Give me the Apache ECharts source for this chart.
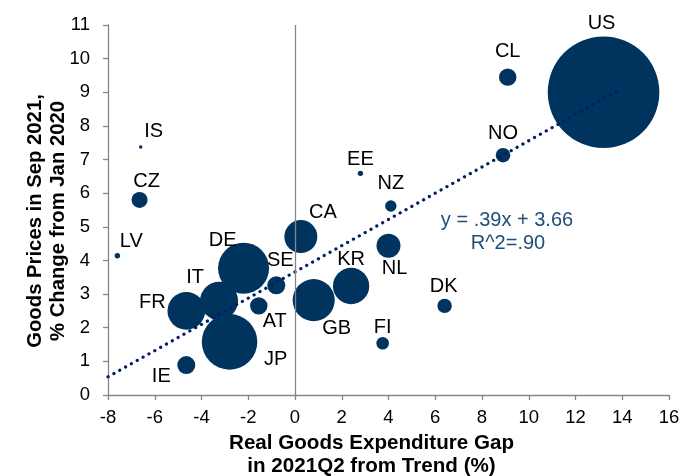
<!DOCTYPE html>
<html>
<head>
<meta charset="utf-8">
<script src="https://cdn.jsdelivr.net/npm/echarts@6/dist/echarts.min.js"></script>
<style>
html,body{margin:0;padding:0;background:#fff;}
#chart{width:692px;height:476px;}
</style>
</head>
<body>
<div id="chart"></div>
<script>
// ---- data ----
const countries = ['US','CL','NO','EE','NZ','NL','DK','FI','KR','GB','CA','SE','AT','DE','JP','IT','FR','IE','LV','CZ','IS'];
const expenditureGap = [13.2, 9.1, 8.9, 2.8, 4.1, 4.0, 6.4, 3.75, 2.4, 0.8, 0.25, -0.8, -1.55, -2.2, -2.8, -3.25, -4.65, -4.65, -7.6, -6.65, -6.6];
const goodsPrices = [9.0, 9.45, 7.13, 6.59, 5.62, 4.44, 2.65, 1.54, 3.24, 2.82, 4.71, 3.26, 2.65, 3.77, 1.58, 2.8, 2.5, 0.89, 4.14, 5.8, 7.37];
const bubbleWeight = [100, 2.43, 1.71, 0.23, 1.04, 4.62, 1.66, 1.27, 10.6, 14.2, 8.74, 2.6, 2.43, 20.9, 24.8, 11.6, 11.4, 2.6, 0.23, 2.06, 0.1];
const trendX = [-8, 13.9];
const trendY = [0.54, 9.08];
const equationText = 'y = .39x + 3.66';
const r2Text = 'R^2=.90';
const xTitle = 'Real Goods Expenditure Gap\nin 2021Q2 from Trend (%)';
const yTitle = 'Goods Prices in Sep 2021,\n% Change from Jan 2020';

// ---- layout / style (label placement in pixels relative to bubble centre) ----
const labelOffset = {
  US:[-2,-69], CL:[0,-26], NO:[0,-22], EE:[0,-14], NZ:[0,-22], NL:[6,23], DK:[-1,-19],
  FI:[0,-16], KR:[0,-27], GB:[23,28], CA:[22,-24], SE:[4,-25], AT:[16,16], DE:[-21,-28],
  JP:[46,18], IT:[-24,-23], FR:[-34,-8], IE:[-25,11], LV:[14,-14], CZ:[7,-18], IS:[13,-16]
};
const FONT = '"Liberation Sans", Arial, sans-serif';
const BUBBLE = '#00335E';
const AXIS = '#868686';

const bubbleData = countries.map((c, i) => ({
  name: c,
  value: [expenditureGap[i], goodsPrices[i], bubbleWeight[i]],
  label: { offset: labelOffset[c] }
}));

const chart = echarts.init(document.getElementById('chart'), null, {renderer: 'canvas'});
chart.setOption({
  animation: false,
  backgroundColor: '#fff',
  textStyle: { fontFamily: FONT },
  grid: { left: 108, right: 23, top: 25, bottom: 81, containLabel: false, outerBoundsMode: 'none' },
  xAxis: {
    type: 'value', min: -8, max: 16, interval: 2,
    name: xTitle, nameLocation: 'middle', nameGap: 35,
    nameTextStyle: { fontFamily: FONT, fontSize: 20.6, fontWeight: 'bold', color: '#000', lineHeight: 23, padding: [0, 34, 0, 0] },
    axisLine: { onZero: false, lineStyle: { color: AXIS, width: 1.3 } },
    axisTick: { show: true, length: 5, lineStyle: { color: AXIS, width: 1.3 } },
    axisLabel: { fontFamily: FONT, fontSize: 18.5, color: '#000', margin: 13 },
    splitLine: { show: false }
  },
  yAxis: {
    type: 'value', min: 0, max: 11, interval: 1,
    name: yTitle, nameLocation: 'middle', nameGap: 38, nameMoveOverlap: false,
    nameTextStyle: { fontFamily: FONT, fontSize: 20.3, fontWeight: 'bold', color: '#000', lineHeight: 23, padding: [0, 22, 0, 0] },
    axisLine: { show: true, onZero: false, lineStyle: { color: AXIS, width: 1.3 } },
    axisTick: { show: true, length: 5, lineStyle: { color: AXIS, width: 1.3 } },
    axisLabel: { fontFamily: FONT, fontSize: 18.5, color: '#000', margin: 18 },
    splitLine: { show: false }
  },
  series: [
    {
      type: 'line', z: 1, silent: true, data: [],
      markLine: {
        silent: true, symbol: ['none', 'none'], label: { show: false },
        lineStyle: { color: AXIS, width: 1.3, type: 'solid' },
        data: [{ xAxis: 0 }]
      }
    },
    {
      type: 'scatter', z: 2,
      data: bubbleData,
      symbolSize: v => 11.16 * Math.sqrt(v[2]),
      itemStyle: { color: BUBBLE, opacity: 1 },
      label: {
        show: true, position: 'inside', formatter: p => p.name,
        fontFamily: FONT, fontSize: 20, color: '#000', align: 'center', verticalAlign: 'middle'
      },
      emphasis: { disabled: true }
    },
    {
      type: 'line', z: 3, silent: true, symbol: 'none',
      data: trendX.map((x, i) => [x, trendY[i]]),
      lineStyle: { color: '#002060', width: 3.2, type: [0.1, 6.6], cap: 'round' }
    }
  ],
  graphic: [
    { type: 'text', x: 507, y: 220, silent: true,
      style: { text: equationText, font: '20px ' + FONT, fill: '#1F4E79', align: 'center', verticalAlign: 'middle' } },
    { type: 'text', x: 508, y: 243, silent: true,
      style: { text: r2Text, font: '20px ' + FONT, fill: '#1F4E79', align: 'center', verticalAlign: 'middle' } }
  ]
});
</script>
</body>
</html>
